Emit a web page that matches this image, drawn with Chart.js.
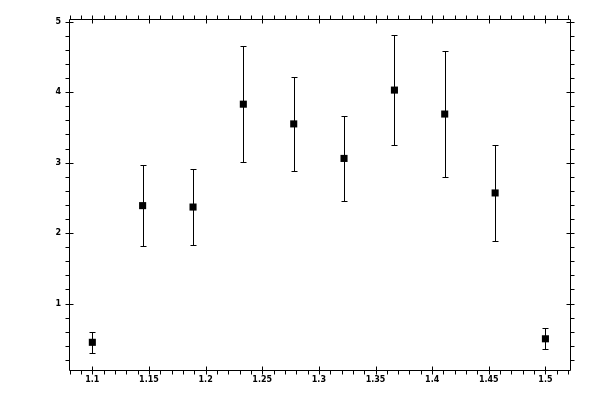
<!DOCTYPE html>
<html>
<head>
<meta charset="utf-8">
<script src="https://cdn.jsdelivr.net/npm/chart.js@4.4.0/dist/chart.umd.min.js"></script>
<style>
    html, body { margin: 0; padding: 0; background: #fff; }
    #wrap { width: 600px; height: 400px; position: relative; }
</style>
</head>
<body>
<div id="wrap"><canvas id="errChart"></canvas></div>
<script>
// values
var xValues = [1.1, 1.1444, 1.1889, 1.2333, 1.2778, 1.3222, 1.3667, 1.4111, 1.4556, 1.5];
var yValues = [0.45, 2.39, 2.37, 3.83, 3.55, 3.06, 4.03, 3.69, 2.57, 0.50];
var yErrors = [0.15, 0.58, 0.54, 0.82, 0.67, 0.60, 0.78, 0.89, 0.68, 0.15];

var xTicks = [1.1, 1.15, 1.2, 1.25, 1.3, 1.35, 1.4, 1.45, 1.5];
var yTicks = [1, 2, 3, 4, 5];

document.addEventListener('DOMContentLoaded', function () {
    var points = xValues.map(function (x, i) {
        return { x: x, y: yValues[i] };
    });

    // error bars, drawn through the scales
    var errorBars = {
        id: 'errorBars',
        beforeDatasetsDraw: function (chart) {
            var ctx = chart.ctx, xs = chart.scales.x, ys = chart.scales.y;
            ctx.save();
            ctx.strokeStyle = '#000';
            ctx.lineWidth = 1;
            points.forEach(function (p, i) {
                var px = Math.round(xs.getPixelForValue(p.x)) + 0.5;
                var top = Math.round(ys.getPixelForValue(p.y + yErrors[i])) + 0.5;
                var bot = Math.round(ys.getPixelForValue(p.y - yErrors[i])) + 0.5;
                ctx.beginPath();
                ctx.moveTo(px, top);
                ctx.lineTo(px, bot);
                ctx.moveTo(px - 3, top);
                ctx.lineTo(px + 3, top);
                ctx.moveTo(px - 3, bot);
                ctx.lineTo(px + 3, bot);
                ctx.stroke();
            });
            ctx.restore();
        }
    };

    // box frame with major ticks across the line and minor ticks outside
    var frameAxes = {
        id: 'frameAxes',
        afterDraw: function (chart) {
            var ctx = chart.ctx, a = chart.chartArea, xs = chart.scales.x, ys = chart.scales.y;
            var L = Math.floor(a.left) + 0.5, R = Math.floor(a.right) + 0.5;
            var T = Math.floor(a.top) + 0.5, B = Math.floor(a.bottom) + 0.5;
            ctx.save();
            ctx.strokeStyle = '#000';
            ctx.lineWidth = 1;
            ctx.beginPath();
            ctx.rect(L, T, R - L, B - T);

            xTicks.forEach(function (v) {
                var px = Math.round(xs.getPixelForValue(v)) + 0.5;
                ctx.moveTo(px, B - 4); ctx.lineTo(px, B + 4);
                ctx.moveTo(px, T - 4); ctx.lineTo(px, T + 4);
            });
            for (var m = 1.08; m < xs.max; m += 0.01) {
                var mv = Math.round(m * 100) / 100;
                if (Math.round(mv * 100) % 5 === 0) continue;
                var mx = Math.round(xs.getPixelForValue(mv)) + 0.5;
                ctx.moveTo(mx, B); ctx.lineTo(mx, B + 4);
                ctx.moveTo(mx, T); ctx.lineTo(mx, T - 4);
            }

            yTicks.forEach(function (v) {
                var py = Math.round(ys.getPixelForValue(v)) + 0.5;
                ctx.moveTo(L - 4, py); ctx.lineTo(L + 4, py);
                ctx.moveTo(R - 4, py); ctx.lineTo(R + 4, py);
            });
            for (var n = 1; n < 26; n++) {
                if (n % 5 === 0) continue;
                var yv = n * 0.2;
                if (yv < ys.min || yv > ys.max) continue;
                var my = Math.round(ys.getPixelForValue(yv)) + 0.5;
                ctx.moveTo(L, my); ctx.lineTo(L - 4, my);
                ctx.moveTo(R, my); ctx.lineTo(R + 4, my);
            }
            ctx.stroke();
            ctx.restore();
        }
    };

    var ctx = document.getElementById('errChart').getContext('2d');
    var errChart = new Chart(ctx, {
        type: 'scatter',
        data: {
            datasets: [{
                data: points,
                pointStyle: 'rect',
                pointRadius: 5,
                pointHoverRadius: 5,
                backgroundColor: '#000',
                borderColor: '#000',
                borderWidth: 0
            }]
        },
        options: {
            responsive: true,
            maintainAspectRatio: false,
            animation: false,
            layout: { padding: { left: 0, right: 30, top: 19, bottom: 0 } },
            plugins: {
                legend: { display: false },
                tooltip: { enabled: false }
            },
            scales: {
                x: {
                    type: 'linear',
                    min: 1.0794,
                    max: 1.5217,
                    grid: { display: false, drawTicks: false },
                    border: { display: false },
                    afterBuildTicks: function (axis) {
                        axis.ticks = xTicks.map(function (v) { return { value: v }; });
                    },
                    afterFit: function (axis) { axis.height = 30; },
                    ticks: {
                        color: '#000',
                        padding: 5,
                        maxRotation: 0,
                        autoSkip: false,
                        font: { family: 'DejaVu Sans', size: 8, weight: 'bold' },
                        callback: function (v) { return String(Math.round(v * 100) / 100); }
                    }
                },
                y: {
                    type: 'linear',
                    min: 0.057,
                    max: 5.039,
                    grid: { display: false, drawTicks: false },
                    border: { display: false },
                    afterBuildTicks: function (axis) {
                        axis.ticks = yTicks.map(function (v) { return { value: v }; });
                    },
                    afterFit: function (axis) { axis.width = 69; },
                    ticks: {
                        color: '#000',
                        padding: 8,
                        autoSkip: false,
                        font: { family: 'DejaVu Sans', size: 8, weight: 'bold' },
                        callback: function (v) { return String(v); }
                    }
                }
            }
        },
        plugins: [errorBars, frameAxes]
    });
});
</script>
</body>
</html>
